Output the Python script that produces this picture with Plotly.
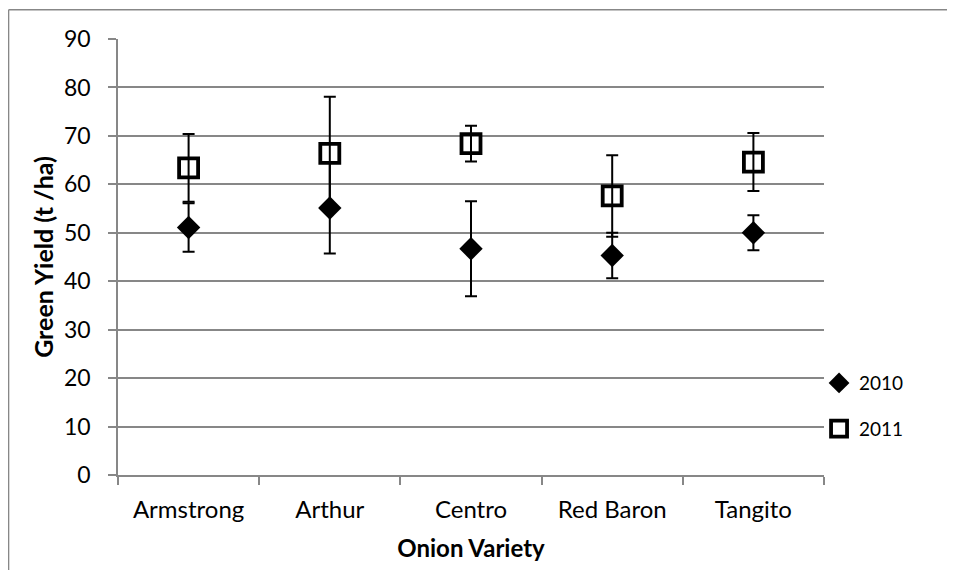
import plotly.graph_objects as go

varieties = ["Armstrong", "Arthur", "Centro", "Red Baron", "Tangito"]
yield_2010 = [51.1, 55.1, 46.7, 45.3, 50.0]
err_2010 = [5.0, 9.4, 9.8, 4.7, 3.6]
yield_2011 = [63.4, 66.4, 68.4, 57.6, 64.6]
err_2011 = [7.0, 11.7, 3.7, 8.4, 6.0]
y_ticks = [0, 10, 20, 30, 40, 50, 60, 70, 80, 90]

FONT = "Lato"
GRID = "#878787"

fig = go.Figure()
fig.add_trace(go.Scatter(
    x=varieties, y=yield_2010, mode="markers", name="2010", legendgroup="a",
    marker=dict(symbol="diamond", size=18, color="black"),
    error_y=dict(type="data", array=err_2010, color="black", thickness=2, width=6),
))
fig.add_trace(go.Scatter(
    x=varieties, y=yield_2011, mode="markers", name="2011", legendgroup="b",
    marker=dict(symbol="square-open", size=19, color="black", line=dict(width=3.8, color="black")),
    error_y=dict(type="data", array=err_2011, color="black", thickness=2, width=6),
))

frame = dict(color=GRID, width=1.5)

fig.update_layout(
    width=939, height=562,
    margin=dict(l=109.5, r=123, t=31.3, b=93),
    paper_bgcolor="white", plot_bgcolor="white",
    font=dict(family=FONT, size=24, color="black"),
    showlegend=True,
    legend=dict(x=0.993, y=0.158, xanchor="left", yanchor="middle",
                font=dict(size=19), tracegroupgap=18, traceorder="grouped",
                itemsizing="trace", bgcolor="rgba(0,0,0,0)"),
    xaxis=dict(
        type="category", tickson="boundaries", ticks="outside", ticklen=8,
        tickcolor=GRID, tickwidth=1.5, showline=True, linecolor=GRID, linewidth=1.5,
        showgrid=False, range=[-0.5, 4.5], ticklabelstandoff=12,
        title=dict(text="<b>Onion Variety</b>", font=dict(size=24), standoff=19),
        tickfont=dict(size=24),
    ),
    yaxis=dict(
        range=[0, 90], tickvals=y_ticks, ticks="outside", ticklen=8,
        tickcolor=GRID, tickwidth=1.5, showline=True, linecolor=GRID, linewidth=1.5,
        showgrid=True, gridcolor=GRID, gridwidth=1.5, zeroline=False,
        ticklabelstandoff=13,
        title=dict(text="<b>Green Yield (t /ha)</b>", font=dict(size=25), standoff=3),
        tickfont=dict(size=23),
    ),
    shapes=[
        dict(type="line", xref="paper", yref="paper", x0=-0.155, x1=1.5,
             y0=1.067, y1=1.067, line=frame, layer="below"),
        dict(type="line", xref="paper", yref="paper", x0=-0.155, x1=-0.155,
             y0=-0.5, y1=1.067, line=frame, layer="below"),
    ],
)

fig.write_html("out.html")
